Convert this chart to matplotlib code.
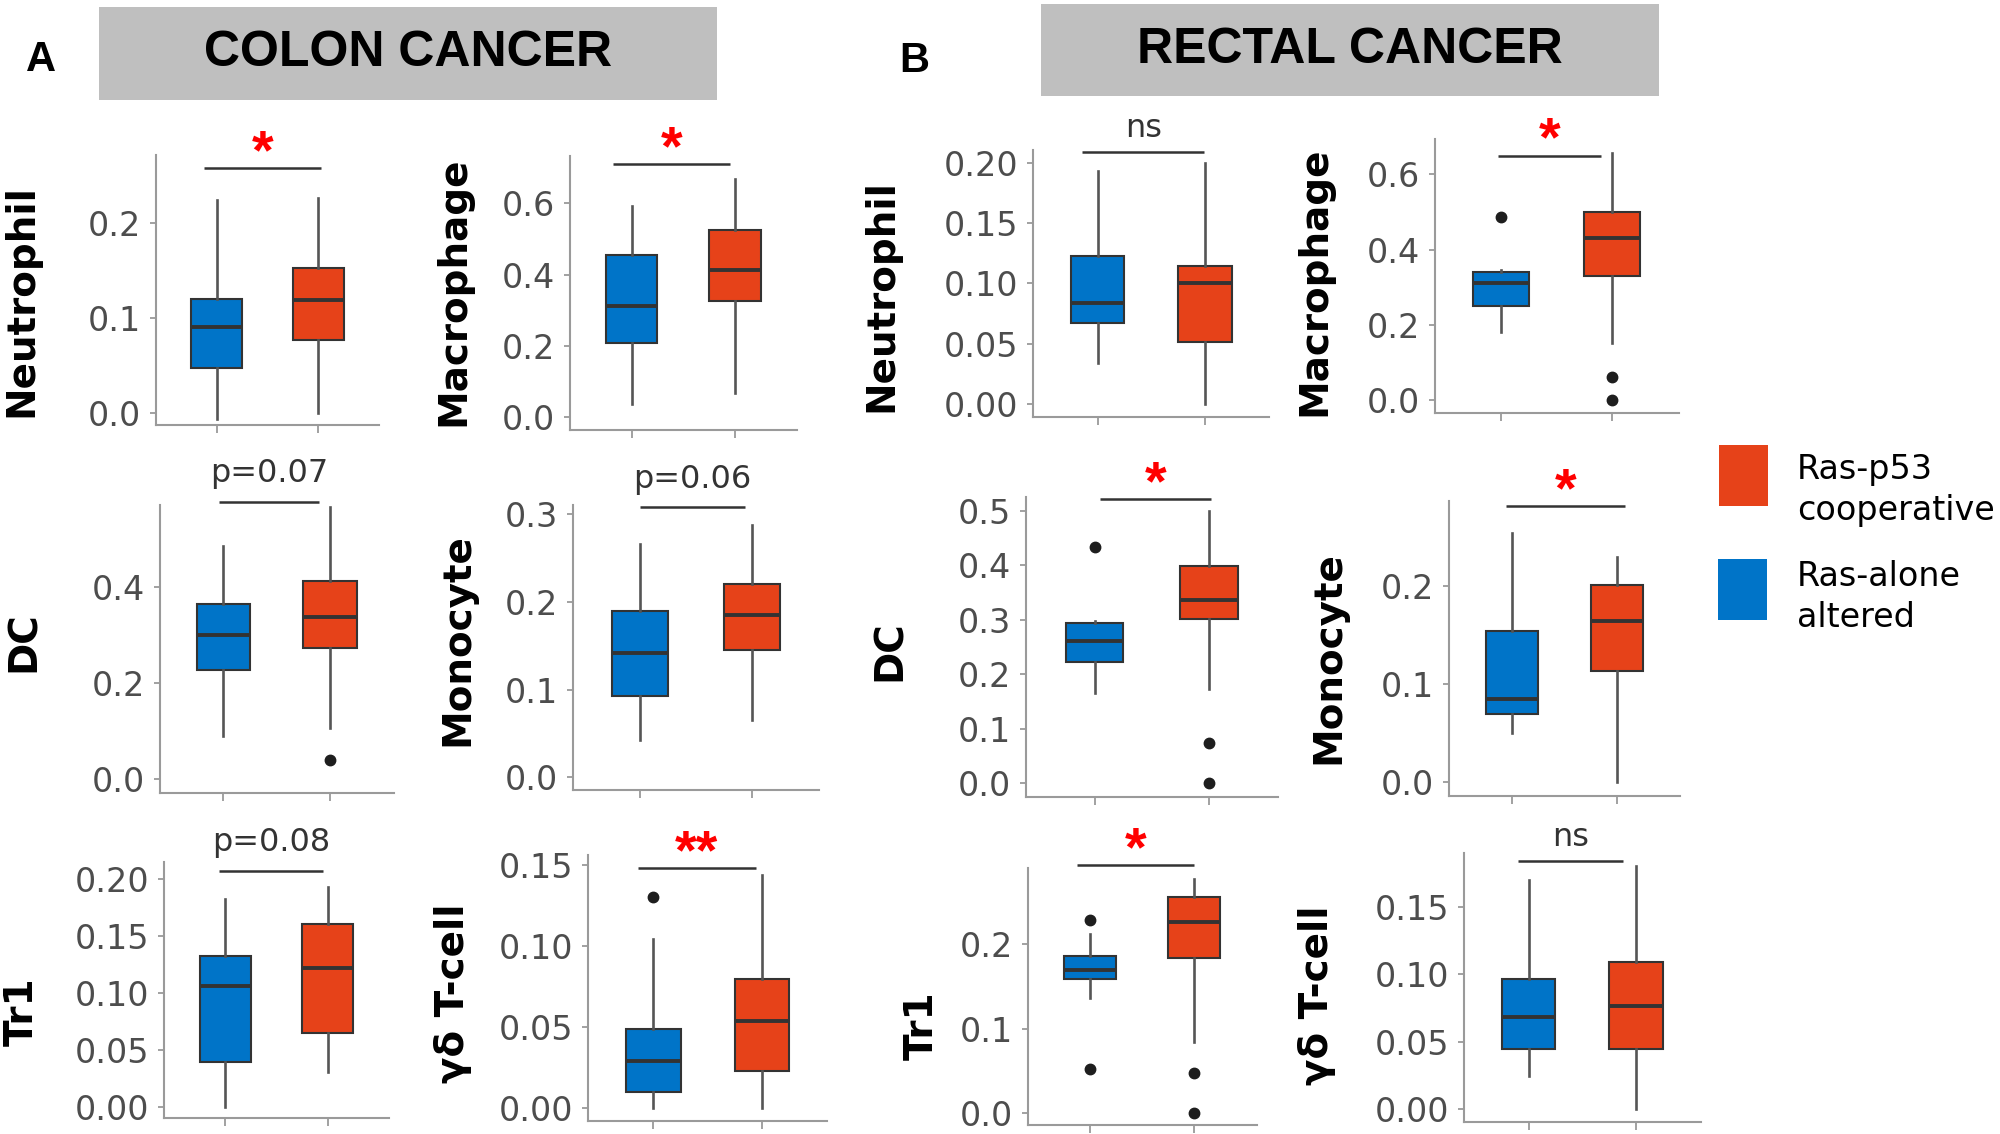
import matplotlib
matplotlib.use("Agg")
import matplotlib.pyplot as plt
from matplotlib.patches import Rectangle

# ---------------- data ----------------
cells = ["Neutrophil", "Macrophage", "Neutrophil", "Macrophage",
         "DC", "Monocyte", "DC", "Monocyte",
         "Tr1", "γδ T-cell", "Tr1", "γδ T-cell"]
groups = ["Ras-alone\naltered", "Ras-p53\ncooperative"]

# Ras-alone altered (blue)
alone_whislo = [-0.006, 0.037, 0.034, 0.182, 0.090, 0.0425, 0.165, 0.050, 0.000, 0.000, 0.136, 0.0246]
alone_q1     = [0.047, 0.207, 0.067, 0.251, 0.227, 0.093, 0.222, 0.069, 0.039, 0.0103, 0.1586, 0.0444]
alone_med    = [0.091, 0.312, 0.084, 0.312, 0.301, 0.142, 0.262, 0.085, 0.106, 0.0294, 0.1696, 0.0682]
alone_q3     = [0.120, 0.455, 0.123, 0.341, 0.365, 0.190, 0.295, 0.154, 0.1325, 0.0488, 0.186, 0.0965]
alone_whishi = [0.224, 0.593, 0.193, 0.345, 0.485, 0.266, 0.298, 0.254, 0.182, 0.1043, 0.2114, 0.1704]
alone_fliers = [[], [], [], [0.486], [], [], [0.433], [], [], [0.1306], [0.228, 0.052], []]

# Ras-p53 cooperative (red)
coop_whislo = [0.000, 0.067, 0.000, 0.151, 0.1075, 0.0653, 0.173, 0.000, 0.0307, 0.000, 0.0839, 0.000]
coop_q1     = [0.077, 0.326, 0.0518, 0.330, 0.273, 0.1448, 0.301, 0.1135, 0.0644, 0.023, 0.183, 0.0444]
coop_med    = [0.119, 0.413, 0.100, 0.432, 0.3375, 0.1847, 0.336, 0.1643, 0.1214, 0.0539, 0.2256, 0.0766]
coop_q3     = [0.153, 0.525, 0.1147, 0.500, 0.413, 0.220, 0.398, 0.201, 0.160, 0.0796, 0.255, 0.1096]
coop_whishi = [0.226, 0.668, 0.200, 0.658, 0.567, 0.2877, 0.500, 0.230, 0.193, 0.144, 0.2764, 0.1808]
coop_fliers = [[], [], [], [0.060, 0.0], [0.040], [], [0.0734, 0.001], [], [], [], [0.048, 0.0], []]

sig_labels = ["*", "*", "ns", "*", "p=0.07", "p=0.06", "*", "*", "p=0.08", "**", "*", "ns"]
sig_heights = [0.258, 0.709, 0.209, 0.65, 0.578, 0.308, 0.522, 0.282, 0.2068, 0.1485, 0.293, 0.1845]

ytick_values = [[0, 0.1, 0.2], [0, 0.2, 0.4, 0.6], [0, 0.05, 0.10, 0.15, 0.20], [0, 0.2, 0.4, 0.6],
                [0, 0.2, 0.4], [0, 0.1, 0.2, 0.3], [0, 0.1, 0.2, 0.3, 0.4, 0.5], [0, 0.1, 0.2],
                [0, 0.05, 0.10, 0.15, 0.20], [0, 0.05, 0.10, 0.15], [0, 0.1, 0.2], [0, 0.05, 0.10, 0.15]]
ytick_decimals = [1, 1, 2, 1, 1, 1, 1, 1, 2, 2, 1, 2]

titles = ["COLON CANCER", "RECTAL CANCER"]
panel_letters = ["A", "B"]

# ---------------- layout (pixels of a 2000x1134 canvas) ----------------
W, H = 2000, 1134
axes_px = [(156, 379, 155, 425), (569.5, 797, 156, 430), (1033, 1269.5, 150, 417), (1434.5, 1678.7, 139, 412.7),
           (159.5, 394, 505, 793.3), (573, 818.6, 505, 790), (1026, 1277.6, 496.7, 797.3), (1449, 1680, 500.7, 795.7),
           (164, 389, 861.7, 1118.3), (588, 827.5, 855, 1120.7), (1027.5, 1257, 868.3, 1125), (1464, 1700.7, 853.3, 1121.7)]
ylims = [(-0.0126, 0.2716), (-0.0356, 0.7326), (-0.0105, 0.2105), (-0.0338, 0.694),
         (-0.0292, 0.571), (-0.0145, 0.3105), (-0.0257, 0.5259), (-0.0143, 0.2873),
         (-0.0102, 0.2149), (-0.0077, 0.1564), (-0.0138, 0.2894), (-0.0094, 0.190)]
sig_x = [(0.87, 2.03), (0.82, 1.95), (0.86, 1.99), (0.97, 1.90),
         (0.955, 1.895), (1.0, 1.94), (1.05, 2.02), (0.94, 2.08),
         (0.94, 1.95), (0.86, 1.94), (0.87, 2.0), (0.9, 1.88)]
ylabel_px = [(21.5, 301), (453, 291.5), (881, 296), (1314, 281),
             (24, 642), (457.5, 640), (889.5, 651), (1328.5, 658),
             (21.5, 1012), (453.5, 993.5), (922, 1026), (1316.5, 995)]

BLUE = "#0074C8"
RED = "#E64219"
EDGE = "#333333"
GRAY = "#4D4D4D"
WHISK = "#555555"
SPINE = "#9A9A9A"

plt.rcParams["font.family"] = ["DejaVu Sans"]
fig = plt.figure(figsize=(W / 100, H / 100), dpi=100)
fig.patch.set_facecolor("white")


def fx(x):
    return x / W


def fy(y):
    return 1 - y / H


for i in range(12):
    l, r, t, b = axes_px[i]
    ax = fig.add_axes([fx(l), fy(b), (r - l) / W, (b - t) / H])
    stats = [
        dict(med=alone_med[i], q1=alone_q1[i], q3=alone_q3[i], whislo=alone_whislo[i],
             whishi=alone_whishi[i], fliers=alone_fliers[i], label=groups[0]),
        dict(med=coop_med[i], q1=coop_q1[i], q3=coop_q3[i], whislo=coop_whislo[i],
             whishi=coop_whishi[i], fliers=coop_fliers[i], label=groups[1]),
    ]
    bp = ax.bxp(stats, positions=[1, 2], widths=0.5, patch_artist=True, showcaps=False,
                boxprops=dict(edgecolor=EDGE, linewidth=1.5),
                medianprops=dict(color=EDGE, linewidth=2.8, solid_capstyle="butt"),
                whiskerprops=dict(color=WHISK, linewidth=1.9),
                flierprops=dict(marker="o", markersize=7.5, markerfacecolor="#1E1E1E",
                                markeredgecolor="#1E1E1E"))
    for patch, c in zip(bp["boxes"], [BLUE, RED]):
        patch.set_facecolor(c)
    ax.set_xlim(0.4, 2.6)
    ax.set_ylim(*ylims[i])
    ax.set_yticks(ytick_values[i])
    ax.set_yticklabels([f"{v:.{ytick_decimals[i]}f}" for v in ytick_values[i]])
    ax.set_xticks([1, 2])
    ax.set_xticklabels([])
    for s in ["top", "right"]:
        ax.spines[s].set_visible(False)
    for s in ["left", "bottom"]:
        ax.spines[s].set_color(SPINE)
        ax.spines[s].set_linewidth(1.5)
    ax.tick_params(axis="y", colors=SPINE, labelcolor=GRAY, labelsize=24, length=4, width=1.3, pad=6.5)
    ax.tick_params(axis="x", colors=SPINE, length=6, width=1.3)
    ax.set_facecolor("none")

    # significance bar and label
    x0, x1 = sig_x[i]
    h = sig_heights[i]
    ax.plot([x0, x1], [h, h], color=EDGE, linewidth=1.8, clip_on=False, solid_capstyle="butt")
    lab = sig_labels[i]
    if "*" in lab:
        ax.annotate(lab, xy=((x0 + x1) / 2, h), xytext=(0, 0), textcoords="offset points",
                    ha="center", va="baseline", color="#FF0000", fontsize=40, fontweight="bold",
                    family=["Liberation Sans", "DejaVu Sans"], annotation_clip=False)
    elif lab == "ns":
        ax.annotate(lab, xy=((x0 + x1) / 2, h), xytext=(0, 10.5), textcoords="offset points",
                    ha="center", va="baseline", color="#333333", fontsize=23,
                    annotation_clip=False)
    else:
        ax.annotate(lab, xy=((x0 + x1) / 2, h), xytext=(0, 14), textcoords="offset points",
                    ha="center", va="baseline", color="#333333", fontsize=23,
                    annotation_clip=False)

    lx, ly = ylabel_px[i]
    fig.text(fx(lx), fy(ly), cells[i], rotation=90, ha="center", va="center",
             fontsize=28, fontweight="heavy", color="black")

# title bands
bands = [(99, 717, 7, 100), (1041, 1659, 4, 96)]
for (l, r, t, b), title in zip(bands, titles):
    fig.add_artist(Rectangle((fx(l), fy(b)), (r - l) / W, (b - t) / H,
                             transform=fig.transFigure, facecolor="#BFBFBF", edgecolor="none"))
    fig.text(fx((l + r) / 2), fy((t + b) / 2), title, ha="center", va="center",
             fontsize=36, fontweight="bold", family=["Liberation Sans", "DejaVu Sans"], color="black")

for (x, y), letter in zip([(41, 60), (914, 61)], panel_letters):
    fig.text(fx(x), fy(y), letter, ha="center", va="center", fontsize=30,
             fontweight="bold", family=["Liberation Sans", "DejaVu Sans"], color="black")

# legend
leg_boxes = [(1719, 1768, 445, 506, RED), (1718, 1767, 559, 620, BLUE)]
for l, r, t, b, c in leg_boxes:
    fig.add_artist(Rectangle((fx(l), fy(b)), (r - l) / W, (b - t) / H,
                             transform=fig.transFigure, facecolor=c, edgecolor="none"))
leg_lines = [groups[1].split("\n"), groups[0].split("\n")]
leg_baselines = [(479, 520), (586, 627)]
for lines, bls in zip(leg_lines, leg_baselines):
    for txt, bl in zip(lines, bls):
        fig.text(fx(1797), fy(bl), txt, ha="left", va="baseline", fontsize=24, color="black")

fig.savefig("out.png", dpi=100, facecolor="white")
